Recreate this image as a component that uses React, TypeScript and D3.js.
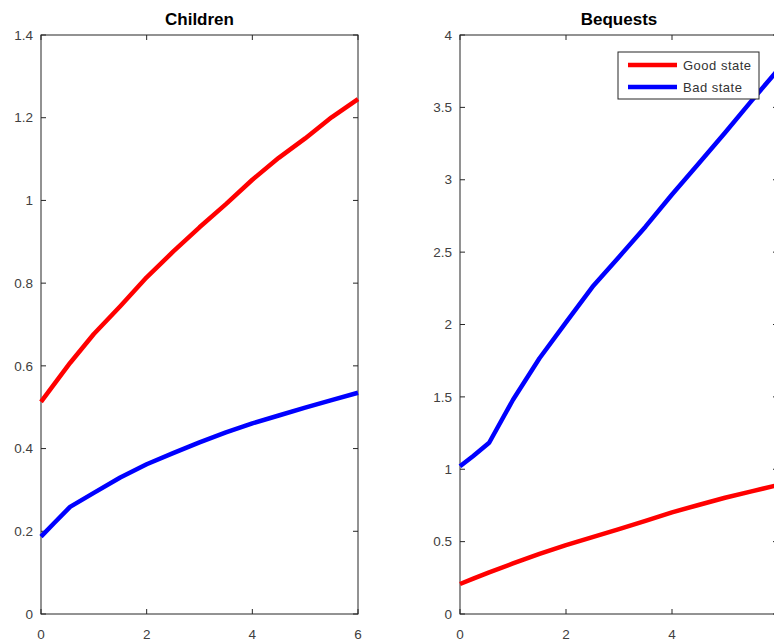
import React from "react";
import * as d3 from "d3";

// grid of the state variable (x axis)
const xGrid = [0, 0.25, 0.55, 1, 1.5, 2, 2.5, 3, 3.5, 4, 4.5, 5, 5.5, 6];

const childrenGood = [0.513, 0.556, 0.607, 0.677, 0.744, 0.814, 0.876, 0.935, 0.991, 1.05, 1.103, 1.15, 1.201, 1.245];
const childrenBad = [0.187, 0.22, 0.259, 0.293, 0.33, 0.362, 0.389, 0.415, 0.439, 0.461, 0.48, 0.499, 0.517, 0.535];
const bequestsGood = [0.207, 0.244, 0.288, 0.349, 0.415, 0.476, 0.531, 0.586, 0.643, 0.702, 0.753, 0.803, 0.847, 0.891];
const bequestsBad = [1.02, 1.092, 1.183, 1.48, 1.767, 2.015, 2.26, 2.467, 2.676, 2.898, 3.11, 3.325, 3.545, 3.76];

const xTicks = [0, 2, 4, 6];
const childrenTicks = [0, 0.2, 0.4, 0.6, 0.8, 1, 1.2, 1.4];
const bequestsTicks = [0, 0.5, 1, 1.5, 2, 2.5, 3, 3.5, 4];

const legendLabels = ["Good state", "Bad state"];
const colors = ["#ff0000", "#0000ff"];

const W = 774;
const H = 641;
const top = 35;
const bottom = 614;
const axisColor = "#262626";
const labelColor = "#404040";
const font = "'Liberation Sans', Arial, sans-serif";
const tickLen = 5;

function Panel(props) {
    const { left, right, title, yMax, yTicks, good, bad, legend } = props;

    const x = d3.scaleLinear().domain([0, 6]).range([left, right]);
    const y = d3.scaleLinear().domain([0, yMax]).range([bottom, top]);

    const line = d3.line()
        .x((d, i) => x(xGrid[i]))
        .y(d => y(d));

    const fmt = v => String(v);

    return (
        <g>
            <text x={(left + right) / 2} y={25} textAnchor="middle"
                fontFamily={font} fontWeight="bold" fontSize={17} fill="#000">{title}</text>

            {/* box */}
            <rect x={left} y={top} width={right - left} height={bottom - top}
                fill="none" stroke={axisColor} strokeWidth={1} />

            {/* x ticks, inward on bottom and top */}
            {xTicks.map(t => (
                <g key={"x" + t}>
                    <line x1={x(t)} x2={x(t)} y1={bottom} y2={bottom - tickLen} stroke={axisColor} />
                    <line x1={x(t)} x2={x(t)} y1={top} y2={top + tickLen} stroke={axisColor} />
                    <text x={x(t)} y={639} textAnchor="middle" fontFamily={font}
                        fontSize={13.5} fill={labelColor}>{fmt(t)}</text>
                </g>
            ))}

            {/* y ticks, inward on left and right */}
            {yTicks.map(t => (
                <g key={"y" + t}>
                    <line x1={left} x2={left + tickLen} y1={y(t)} y2={y(t)} stroke={axisColor} />
                    <line x1={right} x2={right - tickLen} y1={y(t)} y2={y(t)} stroke={axisColor} />
                    <text x={left - 8} y={y(t)} dy="0.35em" textAnchor="end" fontFamily={font}
                        fontSize={13.5} fill={labelColor}>{fmt(t)}</text>
                </g>
            ))}

            <path d={line(good)} fill="none" stroke={colors[0]} strokeWidth={4.5} strokeLinejoin="round" />
            <path d={line(bad)} fill="none" stroke={colors[1]} strokeWidth={4.5} strokeLinejoin="round" />

            {legend && (
                <g>
                    <rect x={618} y={52} width={141} height={47} fill="#fff" stroke={axisColor} strokeWidth={1} />
                    {legendLabels.map((lab, i) => (
                        <g key={lab}>
                            <line x1={628} x2={677} y1={65 + i * 22} y2={65 + i * 22}
                                stroke={colors[i]} strokeWidth={4.5} />
                            <text x={683} y={65 + i * 22} dy="0.35em" fontFamily={font}
                                fontSize={13} letterSpacing={0.5} fill="#333">{lab}</text>
                        </g>
                    ))}
                </g>
            )}
        </g>
    );
}

export default function App() {
    return (
        <svg width={W} height={H} style={{ position: "absolute", left: 0, top: 0, display: "block", background: "#fff" }}>
            <Panel left={41} right={358} title="Children" yMax={1.4} yTicks={childrenTicks}
                good={childrenGood} bad={childrenBad} legend={false} />
            <Panel left={460} right={778} title="Bequests" yMax={4} yTicks={bequestsTicks}
                good={bequestsGood} bad={bequestsBad} legend={true} />
        </svg>
    );
}
